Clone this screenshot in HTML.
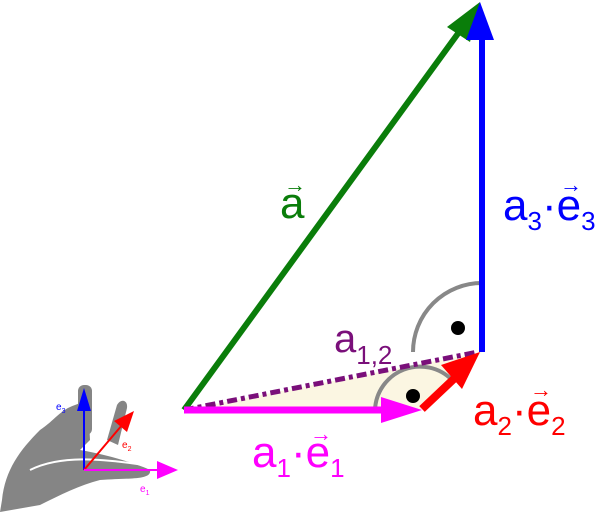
<!DOCTYPE html>
<html><head><style>
body{margin:0;background:#fff;width:600px;height:512px;overflow:hidden}
svg{display:block}
text{font-family:"Liberation Sans",sans-serif}
</style></head><body>
<svg width="600" height="512" viewBox="0 0 600 512">
<polygon points="184,410 420,410 482,352" fill="#fbf6e2"/>
<path d="M482,283 A69,69 0 0 0 413,352" fill="none" stroke="#888" stroke-width="4"/>
<path d="M375,410 A45,45 0 0 1 452,380" fill="none" stroke="#888" stroke-width="4"/>
<circle cx="458" cy="328" r="7" fill="#000"/>
<circle cx="413" cy="396" r="7" fill="#000"/>
<line x1="184" y1="410" x2="478" y2="352" stroke="#7a0f7a" stroke-width="5" stroke-dasharray="10,4,4,4"/>
<line x1="184" y1="410" x2="462" y2="28" stroke="#0a7d0a" stroke-width="6"/>
<polygon points="480,2 447,27 470,42" fill="#0a7d0a"/>
<line x1="482" y1="352" x2="482" y2="38" stroke="#0000ff" stroke-width="6"/>
<polygon points="480,2 466,40 494,40" fill="#0000ff"/>
<line x1="184" y1="410" x2="385" y2="410" stroke="#ff00ff" stroke-width="7"/>
<polygon points="422,410 381,397 381,423" fill="#ff00ff"/>
<line x1="422" y1="409" x2="458" y2="375" stroke="#ff0000" stroke-width="8"/>
<polygon points="480,352 441,365 462,389" fill="#ff0000"/>
<text x="280" y="218" font-size="44" fill="#0a7d0a">a</text>
<text x="284" y="192" font-size="22" fill="#0a7d0a">→</text>
<text x="503" y="220" font-size="44" fill="#0000ff">a<tspan font-size="26" dy="10">3</tspan><tspan dy="-10">·</tspan>e<tspan font-size="26" dy="10">3</tspan></text>
<text x="560" y="192" font-size="22" fill="#0000ff">→</text>
<text x="334" y="352" font-size="40" fill="#7a0f7a">a<tspan font-size="26" dy="12">1,2</tspan></text>
<text x="473" y="425" font-size="44" fill="#ff0000">a<tspan font-size="26" dy="10">2</tspan><tspan dy="-10">·</tspan>e<tspan font-size="26" dy="10">2</tspan></text>
<text x="530" y="397" font-size="22" fill="#ff0000">→</text>
<text x="252" y="467" font-size="44" fill="#ff00ff">a<tspan font-size="26" dy="10">1</tspan><tspan dy="-10">·</tspan>e<tspan font-size="26" dy="10">1</tspan></text>
<text x="310" y="441" font-size="22" fill="#ff00ff">→</text>
<g fill="#222" opacity="0.55">
<path d="M2,500 C5,470 20,450 40,430 C55,420 60,410 75,405 L88,400 L90,440 L80,450 C110,455 140,465 150,470 C152,480 130,478 100,480 C80,485 60,495 40,505 L0,512 Z"/>
<rect x="78" y="385" width="14" height="50" rx="6"/>
<path d="M107,440 L117,405 C121,398 128,400 127,408 L118,445 Z"/>
</g>
<path d="M30,470 C60,455 100,458 150,466" fill="none" stroke="#fff" stroke-width="2"/>
<line x1="84" y1="470" x2="84" y2="400" stroke="#0000ff" stroke-width="2"/>
<polygon points="84,388 77,411 91,411" fill="#0000ff"/>
<line x1="84" y1="470" x2="128" y2="418" stroke="#ff0000" stroke-width="2"/>
<polygon points="134,411 114,421 127,432" fill="#ff0000"/>
<line x1="84" y1="470" x2="160" y2="470" stroke="#ff00ff" stroke-width="2"/>
<polygon points="178,470 157,461 157,479" fill="#ff00ff"/>
<text x="56" y="410" font-size="10" fill="#0000ff">e<tspan font-size="7" dy="3">3</tspan></text>
<text x="122" y="448" font-size="10" fill="#ff0000">e<tspan font-size="7" dy="3">2</tspan></text>
<text x="140" y="492" font-size="10" fill="#ff00ff">e<tspan font-size="7" dy="3">1</tspan></text>
</svg>
</body></html>
